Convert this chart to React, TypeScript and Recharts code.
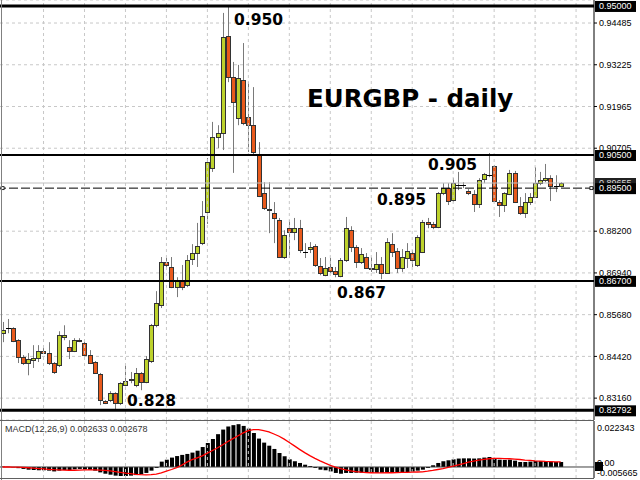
import React from 'react';
import { ComposedChart, Bar, Line, XAxis, YAxis, CartesianGrid, ReferenceLine, ReferenceDot } from 'recharts';

// EURGBP daily candles
const opens = [
  0.8512, 0.8527, 0.8527, 0.8491, 0.8440, 0.8422, 0.8431, 0.8437, 0.8458, 0.8452,
  0.8422, 0.8416, 0.8500, 0.8470, 0.8458, 0.8488, 0.8482, 0.8446, 0.8425, 0.8389,
  0.8307, 0.8310, 0.8331, 0.8301, 0.8355, 0.8370, 0.8355, 0.8392, 0.8364, 0.8428,
  0.8536, 0.8597, 0.8727, 0.8712, 0.8651, 0.8669, 0.8657, 0.8736, 0.8754, 0.8784,
  0.8878, 0.9011, 0.9104, 0.9116, 0.9409, 0.9285, 0.9162, 0.9276, 0.9165, 0.9140,
  0.9050, 0.8935, 0.8887, 0.8875, 0.8854, 0.8742, 0.8829, 0.8817, 0.8829, 0.8757,
  0.8766, 0.8775, 0.8715, 0.8687, 0.8712, 0.8700, 0.8684, 0.8733, 0.8823, 0.8772,
  0.8727, 0.8742, 0.8709, 0.8706, 0.8721, 0.8694, 0.8781, 0.8760, 0.8709, 0.8739,
  0.8754, 0.8718, 0.8757, 0.8848, 0.8842, 0.8832, 0.8935, 0.8950, 0.8914, 0.8959,
  0.8959, 0.8941, 0.8932, 0.8902, 0.8977, 0.8989, 0.9017, 0.8908, 0.8899, 0.8932,
  0.8996, 0.8896, 0.8875, 0.8908, 0.8923, 0.8965, 0.8974, 0.8980, 0.8956, 0.8956,
];
const highs = [
  0.8546, 0.8555, 0.8530, 0.8494, 0.8446, 0.8452, 0.8476, 0.8476, 0.8467, 0.8485,
  0.8425, 0.8518, 0.8536, 0.8491, 0.8497, 0.8497, 0.8488, 0.8461, 0.8428, 0.8392,
  0.8310, 0.8337, 0.8334, 0.8364, 0.8416, 0.8395, 0.8407, 0.8395, 0.8443, 0.8540,
  0.8639, 0.8742, 0.8739, 0.8742, 0.8681, 0.8718, 0.8748, 0.8781, 0.8845, 0.8911,
  0.9041, 0.9150, 0.9140, 0.9479, 0.9500, 0.9331, 0.9322, 0.9388, 0.9270, 0.9255,
  0.9089, 0.8968, 0.8968, 0.8908, 0.8860, 0.8823, 0.8854, 0.8860, 0.8854, 0.8784,
  0.8787, 0.8781, 0.8739, 0.8742, 0.8739, 0.8712, 0.8739, 0.8863, 0.8835, 0.8778,
  0.8769, 0.8754, 0.8742, 0.8757, 0.8742, 0.8799, 0.8814, 0.8769, 0.8766, 0.8784,
  0.8763, 0.8808, 0.8854, 0.8860, 0.8848, 0.8938, 0.8965, 0.8965, 0.8980, 0.8999,
  0.8968, 0.8947, 0.8944, 0.8980, 0.8996, 0.9056, 0.9020, 0.8914, 0.8938, 0.9005,
  0.9002, 0.8923, 0.8935, 0.8935, 0.9014, 0.8999, 0.9023, 0.8989, 0.8989, 0.8968,
];
const lows = [
  0.8485, 0.8512, 0.8485, 0.8422, 0.8416, 0.8385, 0.8407, 0.8425, 0.8449, 0.8416,
  0.8389, 0.8410, 0.8491, 0.8434, 0.8455, 0.8485, 0.8443, 0.8419, 0.8389, 0.8295,
  0.8298, 0.8304, 0.8281, 0.8295, 0.8352, 0.8361, 0.8349, 0.8340, 0.8361, 0.8422,
  0.8530, 0.8588, 0.8709, 0.8648, 0.8621, 0.8642, 0.8651, 0.8718, 0.8712, 0.8778,
  0.8842, 0.8999, 0.9071, 0.9065, 0.9270, 0.8996, 0.9140, 0.9140, 0.9059, 0.9050,
  0.8923, 0.8884, 0.8814, 0.8784, 0.8739, 0.8736, 0.8739, 0.8793, 0.8754, 0.8739,
  0.8754, 0.8712, 0.8687, 0.8684, 0.8694, 0.8681, 0.8681, 0.8727, 0.8757, 0.8709,
  0.8721, 0.8706, 0.8697, 0.8694, 0.8675, 0.8691, 0.8742, 0.8694, 0.8697, 0.8709,
  0.8712, 0.8712, 0.8754, 0.8829, 0.8826, 0.8829, 0.8929, 0.8899, 0.8908, 0.8944,
  0.8950, 0.8929, 0.8878, 0.8890, 0.8965, 0.8983, 0.8908, 0.8863, 0.8878, 0.8929,
  0.8905, 0.8869, 0.8860, 0.8899, 0.8920, 0.8959, 0.8968, 0.8911, 0.8938, 0.8953,
];
const closes = [
  0.8521, 0.8527, 0.8488, 0.8440, 0.8422, 0.8434, 0.8437, 0.8458, 0.8452, 0.8422,
  0.8395, 0.8506, 0.8506, 0.8458, 0.8491, 0.8491, 0.8446, 0.8422, 0.8392, 0.8310,
  0.8301, 0.8331, 0.8301, 0.8361, 0.8367, 0.8373, 0.8392, 0.8364, 0.8434, 0.8536,
  0.8603, 0.8727, 0.8718, 0.8651, 0.8672, 0.8651, 0.8733, 0.8754, 0.8775, 0.8866,
  0.9029, 0.9104, 0.9116, 0.9406, 0.9285, 0.9210, 0.9282, 0.9147, 0.9140, 0.9059,
  0.8926, 0.8890, 0.8884, 0.8860, 0.8742, 0.8808, 0.8817, 0.8829, 0.8763, 0.8756,
  0.8772, 0.8718, 0.8694, 0.8709, 0.8700, 0.8691, 0.8733, 0.8829, 0.8772, 0.8727,
  0.8751, 0.8709, 0.8706, 0.8721, 0.8694, 0.8787, 0.8757, 0.8709, 0.8742, 0.8760,
  0.8733, 0.8802, 0.8848, 0.8842, 0.8832, 0.8935, 0.8950, 0.8911, 0.8965, 0.8958,
  0.8958, 0.8935, 0.8902, 0.8974, 0.8993, 0.8988, 0.8911, 0.8899, 0.8935, 0.8996,
  0.8908, 0.8875, 0.8908, 0.8923, 0.8965, 0.8974, 0.8980, 0.8956, 0.8955, 0.8966,
];

// MACD(12,26,9) sub-window: histogram and red signal line
const macdHist = [
  0.0002, 0.0001, -0.0002, -0.0006, -0.0010, -0.0014, -0.0016, -0.0017, -0.0017, -0.0019,
  -0.0023, -0.0019, -0.0016, -0.0016, -0.0012, -0.0010, -0.0012, -0.0014, -0.0019, -0.0028,
  -0.0035, -0.0040, -0.0045, -0.0047, -0.0047, -0.0045, -0.0042, -0.0038, -0.0031, -0.0019,
  -0.0005, 0.0028, 0.0038, 0.0049, 0.0057, 0.0063, 0.0068, 0.0075, 0.0085, 0.0104,
  0.0125, 0.0146, 0.0171, 0.0195, 0.0211, 0.0218, 0.0223, 0.0214, 0.0200, 0.0177,
  0.0148, 0.0127, 0.0111, 0.0094, 0.0073, 0.0056, 0.0040, 0.0030, 0.0021, 0.0012,
  0.0005, -0.0005, -0.0014, -0.0017, -0.0023, -0.0031, -0.0035, -0.0031, -0.0031, -0.0030,
  -0.0030, -0.0030, -0.0030, -0.0030, -0.0030, -0.0028, -0.0026, -0.0028, -0.0026, -0.0026,
  -0.0024, -0.0019, -0.0014, -0.0005, 0.0009, 0.0021, 0.0030, 0.0035, 0.0040, 0.0044,
  0.0045, 0.0045, 0.0044, 0.0045, 0.0049, 0.0052, 0.0044, 0.0038, 0.0037, 0.0038,
  0.0033, 0.0026, 0.0026, 0.0028, 0.0031, 0.0031, 0.0030, 0.0028, 0.0026, 0.0026,
];
const macdSignal = [
  0.0000, 0.0000, -0.0001, -0.0001, -0.0002, -0.0004, -0.0006, -0.0008, -0.0010, -0.0012,
  -0.0014, -0.0015, -0.0016, -0.0017, -0.0017, -0.0016, -0.0015, -0.0015, -0.0015, -0.0016,
  -0.0018, -0.0020, -0.0024, -0.0028, -0.0032, -0.0035, -0.0038, -0.0040, -0.0041, -0.0040,
  -0.0037, -0.0031, -0.0022, -0.0013, -0.0003, 0.0010, 0.0025, 0.0038, 0.0048, 0.0058,
  0.0072, 0.0086, 0.0100, 0.0116, 0.0133, 0.0148, 0.0163, 0.0178, 0.0189, 0.0195,
  0.0195, 0.0190, 0.0183, 0.0172, 0.0160, 0.0145, 0.0128, 0.0110, 0.0092, 0.0075,
  0.0059, 0.0045, 0.0032, 0.0020, 0.0009, -0.0001, -0.0009, -0.0015, -0.0020, -0.0024,
  -0.0027, -0.0029, -0.0030, -0.0031, -0.0031, -0.0030, -0.0030, -0.0029, -0.0028, -0.0028,
  -0.0027, -0.0026, -0.0025, -0.0022, -0.0018, -0.0013, -0.0008, -0.0002, 0.0004, 0.0011,
  0.0018, 0.0025, 0.0031, 0.0036, 0.0040, 0.0043, 0.0045, 0.0045, 0.0044, 0.0043,
  0.0041, 0.0039, 0.0036, 0.0034, 0.0032, 0.0031, 0.0029, 0.0028, 0.0027, 0.0027,
];

const priceTicks = [0.94485, 0.93225, 0.91965, 0.90705, 0.882, 0.8694, 0.8568, 0.8442, 0.8316];
const macdTicks = [0.022343, -0.005665];
const gridBars = [8, 16, 24, 32, 40, 48, 56, 64, 72, 80, 88, 96, 104, 112];
const levelLines = [0.95, 0.905, 0.867, 0.82792];
const bidPrice = 0.89655;
const dashedLevel = 0.895;
const EMPTY_BARS = 6; // chart shift on the right

const rows = Array.from({ length: opens.length + EMPTY_BARS }, (_, i) =>
  i < opens.length
    ? { i, o: opens[i], h: highs[i], l: lows[i], c: closes[i], macd: macdHist[i], signal: macdSignal[i] }
    : { i }
);

const AXIS_FONT = 'Liberation Sans, Arial, sans-serif';
const BULL = '#bdd22c';
const BEAR = '#e95a1c';

const Candle = (props: any) => {
  const { x, y, width, height, payload } = props;
  if (!payload || payload.h == null) return null;
  const { o, h, l, c } = payload;
  const top = Math.min(y, y + height);
  const ppu = Math.abs(height) / (h - l);
  const yOf = (v: number) => top + (h - v) * ppu;
  const cx = Math.floor(x + width / 2) + 0.5;
  const bTop = yOf(Math.max(o, c));
  const bBot = yOf(Math.min(o, c));
  const isDoji = Math.abs(o - c) < 0.00015;
  return (
    <g>
      <line x1={cx} x2={cx} y1={yOf(h)} y2={yOf(l)} stroke="#7a7a7a" strokeWidth={1} />
      {isDoji ? (
        <line x1={cx - 2.5} x2={cx + 2.5} y1={Math.round(bTop) + 0.5} y2={Math.round(bTop) + 0.5} stroke="#000" />
      ) : (
        <rect
          x={cx - 2}
          y={Math.round(bTop) + 0.5}
          width={4}
          height={Math.max(1, Math.round(bBot - bTop))}
          fill={c > o ? BULL : BEAR}
          stroke="#333"
          strokeWidth={1}
        />
      )}
    </g>
  );
};

const Tag = ({ viewBox, text, bg = '#000', fg = '#fff' }: any) => {
  if (!viewBox) return null;
  const left = viewBox.x + viewBox.width + 1;
  const yy = viewBox.y;
  return (
    <g>
      <rect x={left} y={yy - 5} width={41} height={11} fill={bg} />
      <text x={left + 4} y={yy} dy="0.35em" fontSize={9} fontFamily={AXIS_FONT} fill={fg}>
        {text}
      </text>
    </g>
  );
};

const Square = (props: any) => (
  <rect x={props.cx - 1.5} y={props.cy - 1.5} width={3} height={3} fill="#fff" stroke="#000" strokeWidth={0.8} />
);

const MacdTick = (props: any) => {
  const { x, y, payload } = props;
  const v = payload.value;
  return (
    <text x={x} y={y + (v > 0 ? 4 : -5)} dy="0.35em" fontSize={9} fontFamily={AXIS_FONT} fill="#000" textAnchor="start">
      {v.toFixed(6)}
    </text>
  );
};

export default function App() {
  return (
    <div style={{ position: 'absolute', left: 0, top: 0, width: 640, height: 480, background: '#fff', overflow: 'hidden' }}>
      <div style={{ position: 'absolute', left: 0, top: 0 }}>
        <ComposedChart width={640} height={420} data={rows} margin={{ top: 0, right: 0, bottom: 0, left: 0 }}>
          <CartesianGrid vertical={false} stroke="#c8c8c8" strokeDasharray="3 3" />
          <XAxis dataKey="i" type="category" hide />
          <YAxis
            orientation="right"
            width={46}
            domain={[0.825, 0.9518]}
            allowDataOverflow
            ticks={priceTicks}
            interval={0}
            tickFormatter={(v: number) => v.toFixed(5)}
            tick={{ fontSize: 9, fill: '#000', fontFamily: AXIS_FONT }}
            tickSize={3}
            tickMargin={2}
            axisLine={{ stroke: '#000' }}
            tickLine={{ stroke: '#000' }}
          />
          {gridBars.map((b) => (
            <ReferenceLine key={'g' + b} x={b} stroke="#c8c8c8" strokeDasharray="3 3" />
          ))}
          <ReferenceLine y={bidPrice} stroke="#c0c0c0" label={(p: any) => <Tag {...p} text={bidPrice.toFixed(5)} bg="#202020" fg="#d8d8d8" />} />
          <ReferenceLine y={dashedLevel} stroke="#000" strokeDasharray="9 3" label={(p: any) => <Tag {...p} text={dashedLevel.toFixed(5)} />} />
          <ReferenceDot x={0} y={dashedLevel} shape={Square} />
          <ReferenceDot x={115} y={dashedLevel} shape={Square} />
          {levelLines.map((lv, k) => (
            <ReferenceLine
              key={'lv' + lv}
              y={lv}
              stroke="#000"
              strokeWidth={k === 0 || k === 3 ? 3 : 2}
              label={(p: any) => <Tag {...p} text={lv.toFixed(5)} />}
            />
          ))}
          <Bar
            dataKey={(d: any) => (d.h == null ? null : [d.l, d.h])}
            barSize={4}
            shape={Candle}
            isAnimationActive={false}
          />
        </ComposedChart>
      </div>
      <div style={{ position: 'absolute', left: 0, top: 420 }}>
        <ComposedChart width={640} height={60} data={rows} margin={{ top: 1, right: 0, bottom: 2, left: 0 }}>
          <XAxis dataKey="i" type="category" hide />
          <YAxis
            orientation="right"
            width={46}
            domain={[-0.00573, 0.02396]}
            allowDataOverflow
            ticks={macdTicks}
            interval={0}
            tick={MacdTick}
            tickSize={2}
            tickMargin={1}
            tickLine={false}
            axisLine={{ stroke: '#000' }}
          />
          {gridBars.map((b) => (
            <ReferenceLine key={'mg' + b} x={b} stroke="#c8c8c8" strokeDasharray="3 3" />
          ))}
          <ReferenceLine
            y={0}
            stroke="#404040"
            label={(p: any) =>
              p.viewBox ? (
                <g>
                  <rect x={p.viewBox.x + p.viewBox.width + 1} y={p.viewBox.y - 5} width={8} height={9} fill="#000" />
                  <text x={p.viewBox.x + p.viewBox.width + 3} y={p.viewBox.y - 1} fontSize={9} fontFamily={AXIS_FONT} fill="#000">
                    0.00
                  </text>
                </g>
              ) : null
            }
          />
          <Bar dataKey="macd" fill="#000" barSize={4} isAnimationActive={false} />
          <Line dataKey="signal" stroke="#ff0000" strokeWidth={1.3} dot={false} isAnimationActive={false} />
        </ComposedChart>
      </div>
      <svg width={640} height={480} style={{ position: 'absolute', left: 0, top: 0, pointerEvents: 'none' }}>
        <line x1={1.5} y1={0} x2={1.5} y2={480} stroke="#808080" />
        <line x1={0} y1={420.5} x2={594} y2={420.5} stroke="#606060" />
        <line x1={0} y1={478.5} x2={594} y2={478.5} stroke="#606060" />
        <g fontFamily="DejaVu Sans, sans-serif" fontWeight="bold" fill="#000">
          <text x={307} y={107} fontSize={24.5}>EURGBP - daily</text>
          <text x={234} y={25} fontSize={15.5}>0.950</text>
          <text x={428} y={170} fontSize={15.5}>0.905</text>
          <text x={377} y={205} fontSize={15.5}>0.895</text>
          <text x={337} y={298} fontSize={15.5}>0.867</text>
          <text x={127} y={406} fontSize={15.5}>0.828</text>
        </g>
        <text x={5} y={432} fontSize={9} fontFamily={AXIS_FONT} fill="#333">
          MACD(12,26,9) 0.002633 0.002678
        </text>
      </svg>
    </div>
  );
}
